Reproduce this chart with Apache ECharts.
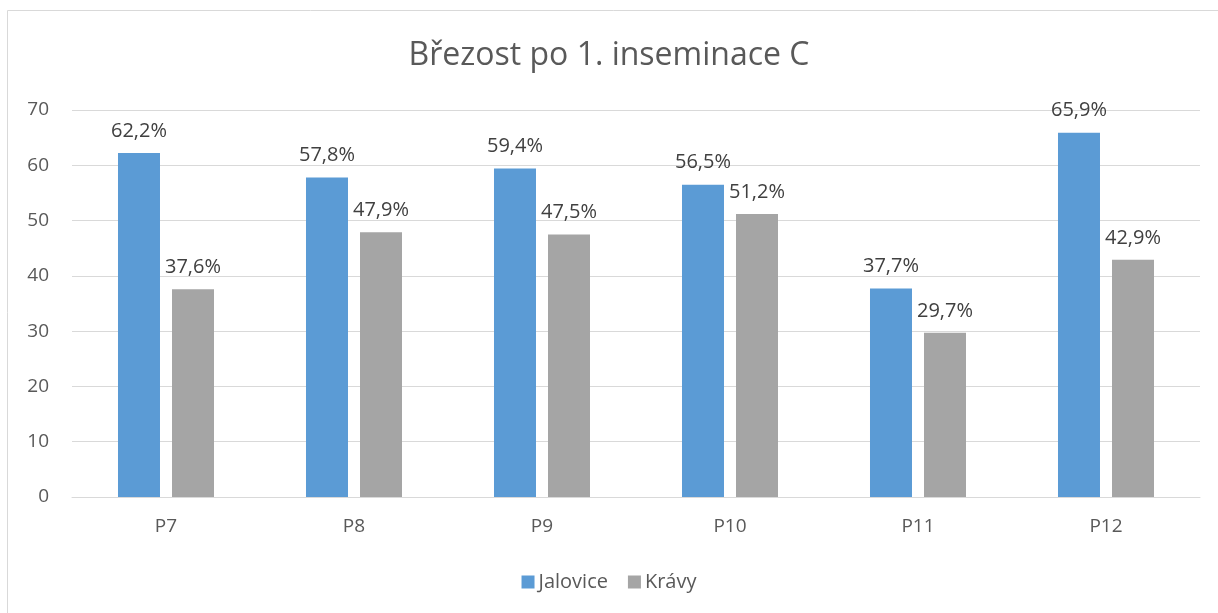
<!DOCTYPE html>
<html>
<head>
<meta charset="utf-8">
<script src="https://cdn.jsdelivr.net/npm/echarts@6/dist/echarts.min.js"></script>
<style>
html,body{margin:0;padding:0;background:#fff;}
#chart{width:1218px;height:613px;}
</style>
</head>
<body>
<div id="chart"></div>
<script>
const categories = ['P7', 'P8', 'P9', 'P10', 'P11', 'P12'];
const jalovice = [62.2, 57.8, 59.4, 56.5, 37.7, 65.9];
const kravy = [37.6, 47.9, 47.5, 51.2, 29.7, 42.9];
const yTicks = [0, 10, 20, 30, 40, 50, 60, 70];

const font = "'Open Sans', 'Noto Sans', sans-serif";
const chart = echarts.init(document.getElementById('chart'));
const fmt = p => p.value.toFixed(1).replace('.', ',') + '%';
chart.setOption({
  animation: false,
  textStyle: { fontFamily: font },
  title: {
    text: 'Březost po 1. inseminace C',
    left: 'center',
    top: 35,
    textStyle: { fontSize: 32, fontWeight: 'normal', color: '#595959', fontFamily: font }
  },
  graphic: [{
    type: 'rect',
    shape: { x: 7.5, y: 10.5, width: 1230, height: 640 },
    style: { fill: 'none', stroke: '#D9D9D9', lineWidth: 1 },
    silent: true
  }],
  legend: {
    bottom: 16,
    left: 'center',
    itemWidth: 13,
    itemHeight: 13,
    itemGap: 20,
    icon: 'rect',
    textStyle: { fontSize: 20, color: '#595959', fontFamily: font, padding: [0, 0, 0, -1] },
    data: ['Jalovice', 'Krávy']
  },
  grid: { left: 72, right: 18, top: 110, bottom: 116 },
  xAxis: {
    type: 'category',
    data: categories,
    axisLine: { lineStyle: { color: '#D9D9D9' } },
    axisTick: { show: false },
    axisLabel: { fontSize: 19, color: '#595959', margin: 20, fontFamily: font }
  },
  yAxis: {
    type: 'value',
    min: yTicks[0],
    max: yTicks[yTicks.length - 1],
    interval: 10,
    axisLine: { show: false },
    axisTick: { show: false },
    splitLine: { lineStyle: { color: '#D9D9D9' } },
    axisLabel: { fontSize: 19, color: '#595959', margin: 23, fontFamily: font }
  },
  series: [
    {
      name: 'Jalovice', type: 'bar', data: jalovice,
      barWidth: 42, barGap: '28.6%',
      itemStyle: { color: '#5B9BD5' },
      label: { show: true, position: 'top', distance: 12, fontSize: 20, color: '#404040', formatter: fmt, fontFamily: font }
    },
    {
      name: 'Krávy', type: 'bar', data: kravy,
      barWidth: 42,
      itemStyle: { color: '#A5A5A5' },
      label: { show: true, position: 'top', distance: 12, fontSize: 20, color: '#404040', formatter: fmt, fontFamily: font }
    }
  ]
});
</script>
</body>
</html>
